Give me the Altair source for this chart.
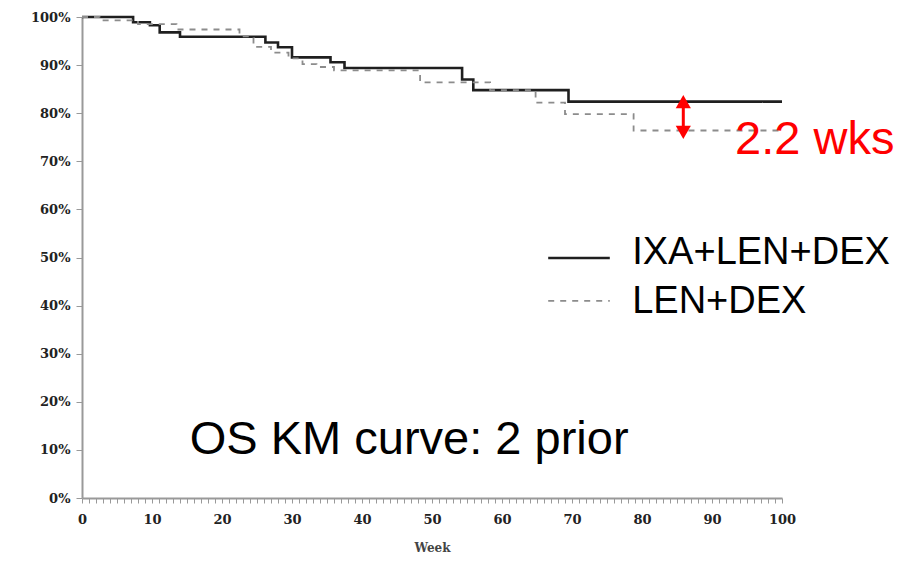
import altair as alt
import pandas as pd

# --- data ---
weeks_ixa = [0, 7.3, 9.7, 11.1, 14.0, 26.2, 28.0, 30.0, 35.5, 37.5, 54.3, 55.9, 69.5, 100]
surv_ixa = [100, 98.9, 98.3, 96.8, 95.9, 94.7, 93.7, 91.6, 90.6, 89.4, 87.0, 84.8, 82.4, 82.4]

weeks_len = [0, 2.5, 8.0, 13.5, 22.5, 24.5, 27.0, 29.5, 31.5, 33.5, 36.0, 48.3, 58.3, 64.8, 69.0, 78.8, 100]
surv_len = [100, 99.3, 98.5, 97.4, 96.0, 93.8, 92.6, 91.4, 90.2, 89.6, 88.9, 86.4, 84.8, 82.2, 79.8, 76.4, 76.4]

series_names = ["IXA+LEN+DEX", "LEN+DEX"]
y_ticks = [0, 10, 20, 30, 40, 50, 60, 70, 80, 90, 100]
x_ticks = list(range(0, 101))

df = pd.concat([
    pd.DataFrame({"week": weeks_ixa, "surv": surv_ixa, "arm": series_names[0]}),
    pd.DataFrame({"week": weeks_len, "surv": surv_len, "arm": series_names[1]}),
])

xscale = alt.Scale(domain=[0, 100], nice=False, zero=False)
yscale = alt.Scale(domain=[0, 100], nice=False)

axis_font = "DejaVu Serif"

xaxis = alt.Axis(
    values=x_ticks, tickCount=200, labelExpr="datum.value % 10 == 0 ? datum.value : ''",
    labelOverlap=False,
    title="Week", titleFont=axis_font, titleFontWeight="bold", titleFontSize=12,
    titleColor="#444", titlePadding=16, labelFont=axis_font, labelFontWeight="bold",
    labelFontSize=13, labelColor="#222", tickSize=5, tickColor="#999",
    domainColor="#999", domainWidth=2, labelPadding=10, grid=False, labelFlush=False,
)
yaxis = alt.Axis(
    values=y_ticks, tickCount=20, labelExpr="datum.value + '%'", title=None, labelOverlap=False,
    labelFont=axis_font, labelFontWeight="bold", labelFontSize=13, labelColor="#222",
    tickSize=6, tickColor="#999", domainColor="#999", domainWidth=2,
    labelPadding=6, grid=False,
)

lines = alt.Chart(df).mark_line(interpolate="step-after", clip=False).encode(
    x=alt.X("week:Q", scale=xscale, axis=xaxis),
    y=alt.Y("surv:Q", scale=yscale, axis=yaxis),
    color=alt.Color("arm:N", scale=alt.Scale(domain=series_names, range=["#1f1f1f", "#8c8c8c"]), legend=None),
    strokeDash=alt.StrokeDash("arm:N", scale=alt.Scale(domain=series_names, range=[[1, 0], [6, 6]]), legend=None),
    strokeWidth=alt.StrokeWidth("arm:N", scale=alt.Scale(domain=series_names, range=[2.6, 1.8]), legend=None),
)

# legend drawn by hand
leg_lines = pd.DataFrame({
    "x1": [66.6, 66.6], "x2": [75.4, 75.4], "y": [49.9, 41.0], "arm": series_names,
})
leg_rule = alt.Chart(leg_lines).mark_rule().encode(
    x="x1:Q", x2="x2:Q", y="y:Q",
    color=alt.Color("arm:N", scale=alt.Scale(domain=series_names, range=["#111111", "#999999"]), legend=None),
    strokeDash=alt.StrokeDash("arm:N", scale=alt.Scale(domain=series_names, range=[[1, 0], [5, 4]]), legend=None),
    strokeWidth=alt.StrokeWidth("arm:N", scale=alt.Scale(domain=series_names, range=[3, 4]), legend=None),
)
leg_text_df = pd.DataFrame({"x": [78.6, 78.6], "y": [50.9, 40.7], "t": series_names})
leg_text = alt.Chart(leg_text_df).mark_text(
    align="left", baseline="middle", font="Liberation Sans", fontSize=38, color="#000"
).encode(x="x:Q", y="y:Q", text="t:N")

title_df = pd.DataFrame({"x": [15.4], "y": [12.1], "t": ["OS KM curve: 2 prior"]})
title_text = alt.Chart(title_df).mark_text(
    align="left", baseline="middle", font="Liberation Sans", fontSize=47, color="#000"
).encode(x="x:Q", y="y:Q", text="t:N")

# red double arrow showing the gap
arrow_df = pd.DataFrame({"x": [85.9], "ytop": [83.0], "ybot": [75.4]})
arrow_rule = alt.Chart(arrow_df).mark_rule(color="#ff0000", strokeWidth=3).encode(
    x="x:Q", y="ytop:Q", y2="ybot:Q")
tips_df = pd.DataFrame({"x": [85.9, 85.9], "y": [82.4, 76.0], "shape": ["triangle-up", "triangle-down"]})
arrow_tips = alt.Chart(tips_df).mark_point(filled=True, color="#ff0000", opacity=1, size=230).encode(
    x="x:Q", y="y:Q",
    shape=alt.Shape("shape:N", scale=alt.Scale(domain=["triangle-up", "triangle-down"], range=["triangle-up", "triangle-down"]), legend=None),
)
gap_df = pd.DataFrame({"x": [93.3], "y": [74.5], "t": ["2.2 wks"]})
gap_text = alt.Chart(gap_df).mark_text(
    align="left", baseline="middle", font="Liberation Sans", fontSize=47, color="#ff0000"
).encode(x="x:Q", y="y:Q", text="t:N")

chart = alt.layer(lines, leg_rule, leg_text, title_text, arrow_rule, arrow_tips, gap_text).properties(
    width=700, height=481,
    autosize=alt.AutoSizeParams(type="none"),
    padding={"left": 82, "top": 17, "right": 127, "bottom": 63},
    background="white",
).configure_view(stroke=None)

chart.save("out.html", embed_options={"renderer": "svg", "actions": False})
